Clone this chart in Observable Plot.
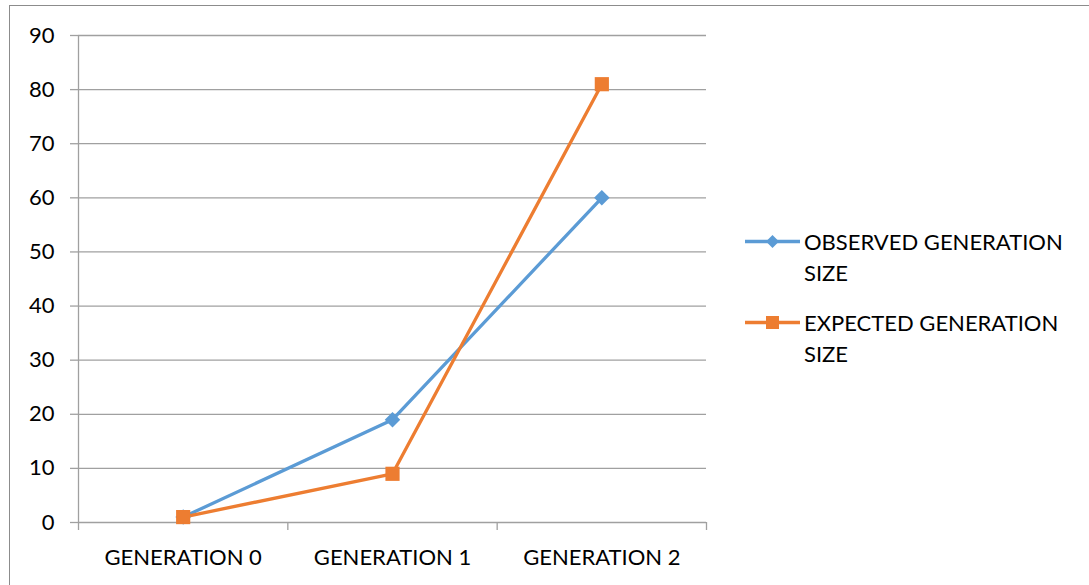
<!DOCTYPE html>
<html>
<head>
<meta charset="utf-8">
<script src="https://cdn.jsdelivr.net/npm/d3@7"></script>
<script src="https://cdn.jsdelivr.net/npm/@observablehq/plot@0.6"></script>
<style>
  html, body { margin: 0; padding: 0; background: #fff; }
  #wrap { position: relative; width: 1089px; height: 585px; overflow: hidden; font-family: Lato, "Open Sans", sans-serif; }
  #frame { position: absolute; left: 9px; top: 5px; width: 1200px; height: 700px; border: 1.5px solid #8c8c8c; box-sizing: border-box; pointer-events: none; }
  #legend { position: absolute; left: 745px; top: 226px; font-size: 22px; color: #000; }
  .item { position: absolute; left: 0; width: 340px; }
  .item svg { position: absolute; left: 0; top: 0; }
  .item .lab { position: absolute; left: 59px; top: 0; line-height: 31px; white-space: nowrap; }
</style>
</head>
<body>
<div id="wrap">
  <div id="chart"></div>
  <div id="frame"></div>
  <div id="legend"></div>
</div>
<script>
const categories = ["GENERATION 0", "GENERATION 1", "GENERATION 2"];
const observed = [1, 19, 60];
const expected = [1, 9, 81];
const seriesNames = ["OBSERVED GENERATION SIZE", "EXPECTED GENERATION SIZE"];
const seriesLabelLines = [["OBSERVED GENERATION", "SIZE"], ["EXPECTED GENERATION", "SIZE"]];
const colors = ["#5B9BD5", "#ED7D31"];
const yTicks = [0, 10, 20, 30, 40, 50, 60, 70, 80, 90];

const data = [];
categories.forEach((c, i) => {
  data.push({series: seriesNames[0], i, cat: c, value: observed[i]});
  data.push({series: seriesNames[1], i, cat: c, value: expected[i]});
});
const obsData = data.filter(d => d.series === seriesNames[0]);
const expData = data.filter(d => d.series === seriesNames[1]);
const boundaries = d3.range(categories.length + 1).map(k => k - 0.5);

const grid = "#a0a0a0";
const chart = Plot.plot({
  width: 1089,
  height: 585,
  marginLeft: 78,
  marginRight: 383,
  marginTop: 35,
  marginBottom: 63,
  style: {fontFamily: "Lato, 'Open Sans', sans-serif", fontSize: "22px", color: "#000", background: "transparent", overflow: "visible"},
  x: {type: "linear", domain: [-0.5, categories.length - 0.5], axis: null, label: null},
  y: {domain: [0, 90], axis: null, label: null},
  marks: [
    Plot.gridY(yTicks.filter(t => t > 0), {stroke: grid, strokeOpacity: 1, strokeWidth: 1.3}),
    Plot.axisY(yTicks, {tickSize: 8, tickPadding: 16, stroke: grid, strokeWidth: 1.3, tickFormat: d => d, fill: "#000", fontSize: 22, label: null}),
    Plot.ruleX([-0.5], {stroke: grid, strokeWidth: 1.3}),
    Plot.ruleY([0], {stroke: grid, strokeWidth: 1.3}),
    Plot.axisX(boundaries, {tickSize: 8, stroke: grid, strokeWidth: 1.3, tickFormat: () => "", label: null}),
    Plot.axisX(d3.range(categories.length), {tickSize: 0, tickPadding: 27, tickFormat: i => categories[i], fill: "#000", fontSize: 22, label: null}),
    Plot.line(obsData, {x: "i", y: "value", stroke: colors[0], strokeWidth: 3.3}),
    Plot.line(expData, {x: "i", y: "value", stroke: colors[1], strokeWidth: 3.3}),
    Plot.dot(obsData, {x: "i", y: "value", symbol: "diamond2", r: 7, fill: colors[0], stroke: "none"}),
    Plot.dot(expData, {x: "i", y: "value", symbol: "square", r: 8, fill: colors[1], stroke: "none"})
  ]
});
document.getElementById("chart").appendChild(chart);

// Legend
const legend = d3.select("#legend");
seriesNames.forEach((name, k) => {
  const item = legend.append("div").attr("class", "item").style("top", (k * 81) + "px");
  const svg = item.append("svg").attr("width", 58).attr("height", 31);
  svg.append("line").attr("x1", 0).attr("x2", 55).attr("y1", 15.5).attr("y2", 15.5)
    .attr("stroke", colors[k]).attr("stroke-width", 3.3);
  if (k === 0) {
    svg.append("path").attr("d", "M27.5,9 L34,15.5 L27.5,22 L21,15.5 Z").attr("fill", colors[k]);
  } else {
    svg.append("rect").attr("x", 21).attr("y", 9).attr("width", 13).attr("height", 13).attr("fill", colors[k]);
  }
  const lab = item.append("div").attr("class", "lab");
  seriesLabelLines[k].forEach(t => lab.append("div").text(t));
});
</script>
</body>
</html>
